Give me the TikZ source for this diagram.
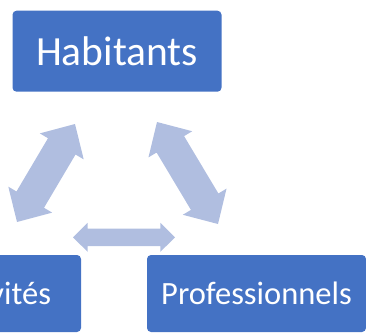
\documentclass[tikz,border=0pt]{standalone}
\usepackage{fontspec}
\setmainfont{Carlito}
\usepackage{xcolor}
\usetikzlibrary{positioning,calc}

\definecolor{boxblue}{HTML}{4472C4}
\definecolor{arrowblue}{RGB}{176,190,224}

% block double arrow between two tips: #1,#2 tips, #3 shaft half width, #4 head half width, #5 head length
\newcommand\blockarrow[5]{%
  \fill[arrowblue] (#1) -- ($(#1)!#5!(#2)!#4!90:(#2)$) -- ($(#1)!#5!(#2)!#3!90:(#2)$)
    -- ($(#2)!#5!(#1)!#3!-90:(#1)$) -- ($(#2)!#5!(#1)!#4!-90:(#1)$) -- (#2)
    -- ($(#2)!#5!(#1)!#4!90:(#1)$) -- ($(#2)!#5!(#1)!#3!90:(#1)$)
    -- ($(#1)!#5!(#2)!#3!-90:(#2)$) -- ($(#1)!#5!(#2)!#4!-90:(#2)$) -- cycle;}

\begin{document}
\begin{tikzpicture}[
    x=1pt,y=-1pt,
    actor/.style={rectangle,fill=boxblue,rounded corners=4pt,text=white,inner sep=0pt},
    big/.style={actor,minimum width=209pt,minimum height=81pt,font=\fontsize{41.5}{48}\selectfont},
    small/.style={actor,minimum width=219pt,minimum height=77pt,font=\fontsize{32.5}{38}\selectfont}
]
\useasboundingbox (0,0) rectangle (366,333);
\clip (0,0) rectangle (366,333);

\node[big] (hab) at (117,51.2) {Habitants};
\node[small] (col) at (-28.5,293.5) {Collectivités};
\node[small] (pro) at (256.5,293.5) {Professionnels};

\coordinate (colup) at (17,222);
\coordinate (habcol) at (75,124);
\coordinate (habpro) at (157,122);
\coordinate (proup) at (218,224);
\coordinate (colpro) at (73,237.3);
\coordinate (procol) at (175,237.3);

\blockarrow{colup}{habcol}{16pt}{25.5pt}{26pt}
\blockarrow{habpro}{proup}{16pt}{25.5pt}{26pt}
\blockarrow{colpro}{procol}{8.8pt}{14.5pt}{14.6pt}

\end{tikzpicture}
\end{document}
